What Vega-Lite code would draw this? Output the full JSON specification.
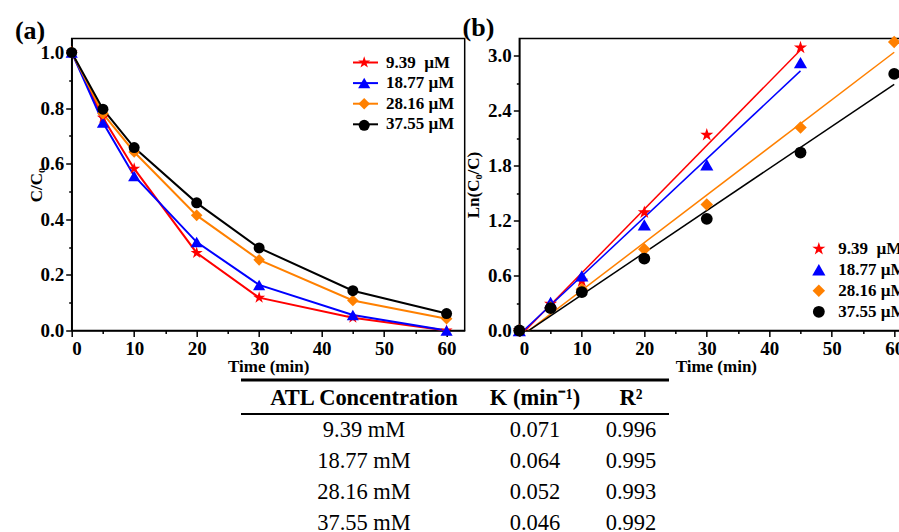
{
  "$schema": "https://vega.github.io/schema/vega-lite/v6.json",
  "background": "white",
  "padding": {"left": 13.7, "top": 13.5, "right": 0, "bottom": 4},
  "spacing": 0,
  "config": {
    "font": "Liberation Serif",
    "view": {"stroke": "black", "strokeWidth": 1.5},
    "axis": {"grid": false, "domainColor": "black", "domainWidth": 1.5, "tickColor": "black", "tickWidth": 1.5, "labelColor": "black", "labelFont": "Liberation Serif", "labelFontSize": 19, "labelFontWeight": "bold", "titleColor": "black", "titleFont": "Liberation Serif", "titleFontSize": 17, "titleFontWeight": "bold", "labelPadding": 2},
    "axisX": {"labelPadding": 3, "titlePadding": 0},
    "title": {"font": "Liberation Serif", "fontSize": 26, "fontWeight": "bold", "color": "black", "anchor": "start", "frame": "bounds"},
    "legend": {"padding": 0, "labelFont": "Liberation Serif", "labelFontSize": 17, "labelFontWeight": "bold", "labelColor": "black"}
  },
  "vconcat": [
    {
      "spacing": -4.35,
      "resolve": {
        "scale": {"fill": "independent", "shape": "independent", "size": "independent", "stroke": "independent"},
        "legend": {"fill": "independent", "shape": "independent", "size": "independent", "stroke": "independent"}
      },
      "hconcat": [
        {
          "width": 393,
          "height": 292,
          "title": {"text": "(a)", "dx": -13, "offset": -5},
          "data": {"values": [
            {"t": 0, "c": 1.0, "conc": "9.39 µM", "mk": "9.39 µM"},
            {"t": 5, "c": 0.765, "conc": "9.39 µM", "mk": "9.39 µM"},
            {"t": 10, "c": 0.582, "conc": "9.39 µM", "mk": "9.39 µM"},
            {"t": 20, "c": 0.279, "conc": "9.39 µM", "mk": "9.39 µM"},
            {"t": 30, "c": 0.118, "conc": "9.39 µM", "mk": "9.39 µM"},
            {"t": 45, "c": 0.046, "conc": "9.39 µM", "mk": "9.39 µM"},
            {"t": 60, "c": 0.0, "conc": "9.39 µM", "mk": "9.39 µM"},
            {"t": 0, "c": 1.0, "conc": "18.77 µM", "mk": "18.77 µM"},
            {"t": 5, "c": 0.748, "conc": "18.77 µM", "mk": "18.77 µM"},
            {"t": 10, "c": 0.556, "conc": "18.77 µM", "mk": "18.77 µM"},
            {"t": 20, "c": 0.318, "conc": "18.77 µM", "mk": "18.77 µM"},
            {"t": 30, "c": 0.164, "conc": "18.77 µM", "mk": "18.77 µM"},
            {"t": 45, "c": 0.056, "conc": "18.77 µM", "mk": "18.77 µM"},
            {"t": 60, "c": 0.0, "conc": "18.77 µM", "mk": "18.77 µM"},
            {"t": 0, "c": 1.0, "conc": "28.16 µM", "mk": "28.16 µM"},
            {"t": 5, "c": 0.78, "conc": "28.16 µM", "mk": "28.16 µM"},
            {"t": 10, "c": 0.642, "conc": "28.16 µM", "mk": "28.16 µM"},
            {"t": 20, "c": 0.414, "conc": "28.16 µM", "mk": "28.16 µM"},
            {"t": 30, "c": 0.254, "conc": "28.16 µM", "mk": "28.16 µM"},
            {"t": 45, "c": 0.108, "conc": "28.16 µM", "mk": "28.16 µM"},
            {"t": 60, "c": 0.042, "conc": "28.16 µM", "mk": "28.16 µM"},
            {"t": 0, "c": 1.0, "conc": "37.55 µM", "mk": "37.55 µM"},
            {"t": 5, "c": 0.796, "conc": "37.55 µM", "mk": "37.55 µM"},
            {"t": 10, "c": 0.658, "conc": "37.55 µM", "mk": "37.55 µM"},
            {"t": 20, "c": 0.459, "conc": "37.55 µM", "mk": "37.55 µM"},
            {"t": 30, "c": 0.297, "conc": "37.55 µM", "mk": "37.55 µM"},
            {"t": 45, "c": 0.143, "conc": "37.55 µM", "mk": "37.55 µM"},
            {"t": 60, "c": 0.061, "conc": "37.55 µM", "mk": "37.55 µM"}
          ]},
          "encoding": {
            "x": {"field": "t", "type": "quantitative", "scale": {"domain": [0, 62.9], "nice": false, "zero": false},
              "axis": {"title": "Time (min)", "values": [0, 5, 10, 15, 20, 25, 30, 35, 40, 45, 50, 55, 60], "labelExpr": "datum.value % 10 === 0 ? datum.label : ''", "tickSize": {"condition": {"test": "datum.value % 10 === 0", "value": 6}, "value": 3}}},
            "y": {"field": "c", "type": "quantitative", "scale": {"domain": [0, 1.05], "nice": false},
              "axis": {"title": "C/C₀", "values": [0, 0.1, 0.2, 0.3, 0.4, 0.5, 0.6, 0.7, 0.8, 0.9, 1.0], "format": ".1f", "labelExpr": "round(datum.value * 10) % 2 === 0 ? datum.label : ''", "tickSize": {"condition": {"test": "round(datum.value * 10) % 2 === 0", "value": 6}, "value": 3}, "titlePadding": -6}}
          },
          "layer": [
            {
              "mark": {"type": "line", "strokeWidth": 2},
              "encoding": {
                "stroke": {"field": "conc", "type": "nominal",
                  "sort": ["9.39 µM", "18.77 µM", "28.16 µM", "37.55 µM"],
                  "scale": {"range": ["#ff0000", "#0000ff", "#ff8000", "#000000"]},
                  "legend": {"title": null, "orient": "none", "legendX": 285.3, "legendY": 15.5, "symbolType": "M-2.5,0H2.5", "symbolSize": 100, "symbolStrokeWidth": 2, "labelOffset": 12, "rowPadding": 2.6, "labelExpr": "datum.label === '9.39 µM' ? '\u00a09.39\u00a0\u00a0µM' : datum.label"}}
              }
            },
            {
              "mark": {"type": "point", "filled": true, "opacity": 1},
              "encoding": {
                "fill": {"field": "mk", "type": "nominal",
                  "scale": {"domain": ["9.39 µM", "18.77 µM", "28.16 µM", "37.55 µM"], "range": ["#ff0000", "#0000ff", "#ff8000", "#000000"]},
                  "legend": {"title": null, "orient": "none", "legendX": 284, "legendY": 15.5, "labelOffset": 12, "rowPadding": 2.6, "labelExpr": "''"}},
                "shape": {"field": "mk", "type": "nominal",
                  "scale": {"domain": ["9.39 µM", "18.77 µM", "28.16 µM", "37.55 µM"], "range": ["M0,-1L0.2245,-0.309L0.951,-0.309L0.363,0.118L0.588,0.809L0,0.382L-0.588,0.809L-0.363,0.118L-0.951,-0.309L-0.2245,-0.309Z", "triangle-up", "diamond", "circle"]},
                  "legend": {"title": null, "orient": "none", "legendX": 284, "legendY": 15.5, "labelOffset": 12, "rowPadding": 2.6, "labelExpr": "''"}},
                "size": {"field": "mk", "type": "nominal",
                  "scale": {"domain": ["9.39 µM", "18.77 µM", "28.16 µM", "37.55 µM"], "range": [160, 121, 100, 81]},
                  "legend": {"title": null, "orient": "none", "legendX": 284, "legendY": 15.5, "labelOffset": 12, "rowPadding": 2.6, "labelExpr": "''"}}
              }
            }
          ]
        },
        {
          "width": 393,
          "height": 292,
          "title": {"text": "(b)", "dx": -2, "offset": -5},
          "encoding": {
            "x": {"field": "t", "type": "quantitative", "scale": {"domain": [0, 62.9], "nice": false, "zero": false},
              "axis": {"title": "Time (min)", "values": [0, 5, 10, 15, 20, 25, 30, 35, 40, 45, 50, 55, 60], "labelExpr": "datum.value % 10 === 0 ? datum.label : ''", "tickSize": {"condition": {"test": "datum.value % 10 === 0", "value": 6}, "value": 3}}},
            "y": {"field": "v", "type": "quantitative", "scale": {"domain": [0, 3.19], "nice": false},
              "axis": {"title": "Ln(C₀/C)", "values": [0, 0.3, 0.6, 0.9, 1.2, 1.5, 1.8, 2.1, 2.4, 2.7, 3.0], "format": ".1f", "labelExpr": "round(datum.value / 0.3) % 2 === 0 ? datum.label : ''", "tickSize": {"condition": {"test": "round(datum.value / 0.3) % 2 === 0", "value": 6}, "value": 3}, "titlePadding": 5}}
          },
          "layer": [
            {
              "data": {"values": [
                {"t": 0, "v": -0.067, "s": "9.39 µM"},
                {"t": 45, "v": 3.065, "s": "9.39 µM"},
                {"t": 0, "v": -0.044, "s": "18.77 µM"},
                {"t": 45, "v": 2.836, "s": "18.77 µM"},
                {"t": 0, "v": -0.08, "s": "28.16 µM"},
                {"t": 60, "v": 3.04, "s": "28.16 µM"},
                {"t": 0, "v": -0.07, "s": "37.55 µM"},
                {"t": 60, "v": 2.69, "s": "37.55 µM"}
              ]},
              "mark": {"type": "line", "strokeWidth": 1.5, "clip": true},
              "encoding": {
                "stroke": {"field": "s", "type": "nominal",
                  "sort": ["9.39 µM", "18.77 µM", "28.16 µM", "37.55 µM"],
                  "scale": {"range": ["#ff0000", "#0000ff", "#ff8000", "#000000"]},
                  "legend": null}
              }
            },
            {
              "data": {"values": [
                {"t": 0, "v": 0, "s": "9.39 µM"},
                {"t": 5, "v": 0.29, "s": "9.39 µM"},
                {"t": 10, "v": 0.542, "s": "9.39 µM"},
                {"t": 20, "v": 1.29, "s": "9.39 µM"},
                {"t": 30, "v": 2.137, "s": "9.39 µM"},
                {"t": 45, "v": 3.09, "s": "9.39 µM"},
                {"t": 0, "v": 0, "s": "18.77 µM"},
                {"t": 5, "v": 0.306, "s": "18.77 µM"},
                {"t": 10, "v": 0.597, "s": "18.77 µM"},
                {"t": 20, "v": 1.154, "s": "18.77 µM"},
                {"t": 30, "v": 1.81, "s": "18.77 µM"},
                {"t": 45, "v": 2.927, "s": "18.77 µM"},
                {"t": 0, "v": 0, "s": "28.16 µM"},
                {"t": 5, "v": 0.25, "s": "28.16 µM"},
                {"t": 10, "v": 0.451, "s": "28.16 µM"},
                {"t": 20, "v": 0.888, "s": "28.16 µM"},
                {"t": 30, "v": 1.376, "s": "28.16 µM"},
                {"t": 45, "v": 2.217, "s": "28.16 µM"},
                {"t": 60, "v": 3.153, "s": "28.16 µM"},
                {"t": 0, "v": 0, "s": "37.55 µM"},
                {"t": 5, "v": 0.244, "s": "37.55 µM"},
                {"t": 10, "v": 0.419, "s": "37.55 µM"},
                {"t": 20, "v": 0.786, "s": "37.55 µM"},
                {"t": 30, "v": 1.22, "s": "37.55 µM"},
                {"t": 45, "v": 1.944, "s": "37.55 µM"},
                {"t": 60, "v": 2.803, "s": "37.55 µM"}
              ]},
              "mark": {"type": "point", "filled": true, "opacity": 1},
              "encoding": {
                "fill": {"field": "s", "type": "nominal",
                  "scale": {"domain": ["9.39 µM", "18.77 µM", "28.16 µM", "37.55 µM"], "range": ["#ff0000", "#0000ff", "#ff8000", "#000000"]},
                  "legend": {"title": null, "orient": "none", "legendX": 291, "legendY": 201.8, "labelOffset": 11, "rowPadding": 2.0, "labelExpr": "datum.label === '9.39 µM' ? '\u00a09.39\u00a0\u00a0µM' : datum.label"}},
                "shape": {"field": "s", "type": "nominal",
                  "scale": {"domain": ["9.39 µM", "18.77 µM", "28.16 µM", "37.55 µM"], "range": ["M0,-1L0.2245,-0.309L0.951,-0.309L0.363,0.118L0.588,0.809L0,0.382L-0.588,0.809L-0.363,0.118L-0.951,-0.309L-0.2245,-0.309Z", "triangle-up", "diamond", "circle"]},
                  "legend": {"title": null, "orient": "none", "legendX": 291, "legendY": 201.8, "labelOffset": 11, "rowPadding": 2.0, "labelExpr": "datum.label === '9.39 µM' ? '\u00a09.39\u00a0\u00a0µM' : datum.label"}},
                "size": {"field": "s", "type": "nominal",
                  "scale": {"domain": ["9.39 µM", "18.77 µM", "28.16 µM", "37.55 µM"], "range": [190, 140, 130, 100]},
                  "legend": {"title": null, "orient": "none", "legendX": 291, "legendY": 201.8, "labelOffset": 11, "rowPadding": 2.0, "labelExpr": "datum.label === '9.39 µM' ? '\u00a09.39\u00a0\u00a0µM' : datum.label"}}
              }
            }
          ]
        }
      ]
    },
    {
      "width": 660,
      "height": 152,
      "view": {"stroke": null},
      "layer": [
        {
          "data": {"values": [{"row": -0.5, "from": 0, "to": 4}]},
          "mark": {"type": "rule", "strokeWidth": 3, "color": "black"},
          "encoding": {
            "x": {"field": "from", "type": "quantitative", "scale": {"domain": [0, 1, 2, 3, 4], "range": [169.3, 292.3, 463.3, 559.3, 597.3], "nice": false, "zero": false}, "axis": null},
            "x2": {"field": "to"},
            "y": {"field": "row", "type": "quantitative", "scale": {"domain": [-0.5, 0, 0.5, 1, 4], "range": [4.5, 23, 38.5, 55, 148], "nice": false, "zero": false}, "axis": null}
          }
        },
        {
          "data": {"values": [{"row": 0.5, "from": 0, "to": 4}]},
          "mark": {"type": "rule", "strokeWidth": 2, "color": "black"},
          "encoding": {
            "x": {"field": "from", "type": "quantitative", "scale": {"domain": [0, 1, 2, 3, 4], "range": [169.3, 292.3, 463.3, 559.3, 597.3], "nice": false, "zero": false}, "axis": null},
            "x2": {"field": "to"},
            "y": {"field": "row", "type": "quantitative", "scale": {"domain": [-0.5, 0, 0.5, 1, 4], "range": [4.5, 23, 38.5, 55, 148], "nice": false, "zero": false}, "axis": null}
          }
        },
        {
          "data": {"values": [
            {"row": 0, "col": 1, "txt": "ATL Concentration"},
            {"row": 0, "col": 2, "txt": "K (min⁻¹)"},
            {"row": 0, "col": 3, "txt": "R²"}
          ]},
          "mark": {"type": "text", "font": "Liberation Serif", "fontSize": 22.5, "fontWeight": "bold", "color": "black"},
          "encoding": {
            "x": {"field": "col", "type": "quantitative", "scale": {"domain": [0, 1, 2, 3, 4], "range": [169.3, 292.3, 463.3, 559.3, 597.3], "nice": false, "zero": false}, "axis": null},
            "y": {"field": "row", "type": "quantitative", "scale": {"domain": [-0.5, 0, 0.5, 1, 4], "range": [4.5, 23, 38.5, 55, 148], "nice": false, "zero": false}, "axis": null},
            "text": {"field": "txt"}
          }
        },
        {
          "data": {"values": [
            {"row": 1, "col": 1, "txt": "9.39 mM"},
            {"row": 1, "col": 2, "txt": "0.071"},
            {"row": 1, "col": 3, "txt": "0.996"},
            {"row": 2, "col": 1, "txt": "18.77 mM"},
            {"row": 2, "col": 2, "txt": "0.064"},
            {"row": 2, "col": 3, "txt": "0.995"},
            {"row": 3, "col": 1, "txt": "28.16 mM"},
            {"row": 3, "col": 2, "txt": "0.052"},
            {"row": 3, "col": 3, "txt": "0.993"},
            {"row": 4, "col": 1, "txt": "37.55 mM"},
            {"row": 4, "col": 2, "txt": "0.046"},
            {"row": 4, "col": 3, "txt": "0.992"}
          ]},
          "mark": {"type": "text", "font": "Liberation Serif", "fontSize": 22.5, "color": "black"},
          "encoding": {
            "x": {"field": "col", "type": "quantitative", "scale": {"domain": [0, 1, 2, 3, 4], "range": [169.3, 292.3, 463.3, 559.3, 597.3], "nice": false, "zero": false}, "axis": null},
            "y": {"field": "row", "type": "quantitative", "scale": {"domain": [-0.5, 0, 0.5, 1, 4], "range": [4.5, 23, 38.5, 55, 148], "nice": false, "zero": false}, "axis": null},
            "text": {"field": "txt"}
          }
        }
      ]
    }
  ]
}
